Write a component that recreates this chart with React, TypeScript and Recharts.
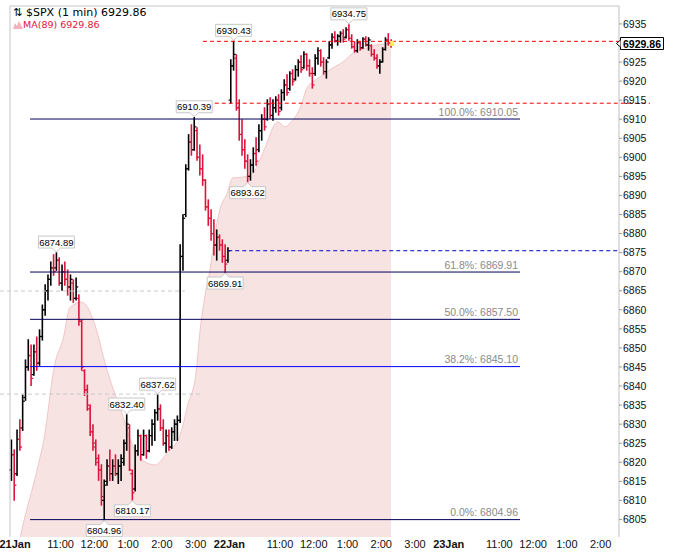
import React from 'react';
import { ComposedChart, XAxis, YAxis, Bar, Area, Scatter, ReferenceLine, ReferenceDot } from 'recharts';

// ---------- axes ----------
const X_MIN = -17.8;
const X_MAX = 1082.7;
const Y_MIN = 6800.4;
const Y_MAX = 6939.7;

// minutes counted from 21 Jan 9:30 (sessions joined without overnight gap)
const xTickValues = [0, 90, 150, 210, 270, 330, 390, 480, 540, 600, 660, 720, 780, 870, 930, 990, 1050];
const xTickLabels = ['21Jan', '11:00', '12:00', '1:00', '2:00', '3:00', '22Jan', '11:00', '12:00', '1:00', '2:00', '3:00', '23Jan', '11:00', '12:00', '1:00', '2:00'];
const dayTicks = [0, 390, 780];
const yTickValues = [6805, 6810, 6815, 6820, 6825, 6830, 6835, 6840, 6845, 6850, 6855, 6860, 6865, 6870, 6875, 6880, 6885, 6890, 6895, 6900, 6905, 6910, 6915, 6920, 6925, 6935];

// ---------- price bars (5-minute OHLC) ----------
const JAN21_START = 2.5;
const JAN22_START = 392.5;
const BAR_MINUTES = 5;

const jan21Bars: number[][] = [
  [6818, 6825.8, 6815.3, 6822], [6822, 6823.2, 6810.1, 6814], [6817, 6828.4, 6816.6, 6826], [6826, 6831.1, 6823.2, 6824],
  [6829, 6837.6, 6828.4, 6836], [6837, 6846.8, 6836.3, 6845], [6845, 6852.1, 6844.2, 6848], [6848, 6850.7, 6840.2, 6842],
  [6843, 6850.7, 6842.9, 6849], [6849, 6852.8, 6844.2, 6846], [6846, 6854.7, 6845.5, 6853], [6853, 6861.2, 6852.1, 6860],
  [6860, 6866.5, 6858.6, 6865], [6865, 6869.1, 6862.6, 6868], [6868, 6872.5, 6866.5, 6871], [6871, 6874.4, 6869.1, 6870],
  [6871, 6874.89, 6870.4, 6873], [6873, 6873.6, 6866.5, 6867], [6867, 6871.7, 6865.2, 6870], [6870, 6872.5, 6866.5, 6868],
  [6868, 6870.4, 6863.9, 6866], [6866, 6869.1, 6862.6, 6868], [6867, 6867.8, 6862.0, 6863], [6863, 6868.3, 6862.6, 6866],
  [6863, 6863.9, 6856.0, 6857], [6857, 6857.3, 6844.2, 6845], [6844, 6844.2, 6837.6, 6839], [6839, 6840.2, 6833.7, 6835],
  [6834, 6835.0, 6827.1, 6828], [6828, 6829.8, 6823.2, 6825], [6824, 6825.8, 6819.3, 6821], [6820, 6821.9, 6815.3, 6818],
  [6818, 6819.3, 6808.8, 6811], [6810, 6815.3, 6804.96, 6814], [6815, 6820.6, 6814.0, 6819], [6819, 6823.2, 6815.3, 6817],
  [6817, 6820.6, 6815.3, 6819], [6819, 6821.9, 6816.6, 6817], [6817, 6820.6, 6814.5, 6819], [6819, 6821.9, 6815.3, 6821],
  [6820, 6825.8, 6819.3, 6825], [6825, 6832.4, 6823.2, 6830], [6829, 6829.8, 6817.9, 6818], [6817, 6817.9, 6810.17, 6812],
  [6813, 6824.5, 6812.5, 6823], [6823, 6828.4, 6821.9, 6827], [6827, 6827.1, 6820.6, 6822], [6822, 6828.4, 6821.9, 6827],
  [6827, 6827.1, 6821.1, 6823], [6823, 6828.4, 6822.8, 6827], [6827, 6831.1, 6824.5, 6830], [6830, 6833.7, 6825.8, 6833],
  [6833, 6837.62, 6831.1, 6834], [6834, 6835.0, 6828.4, 6829], [6829, 6831.1, 6824.5, 6825], [6825, 6828.4, 6822.7, 6827],
  [6827, 6828.4, 6823.2, 6824], [6824, 6829.0, 6823.7, 6828], [6828, 6831.1, 6825.8, 6830], [6830, 6832.1, 6825.8, 6831],
  [6831, 6877.0, 6830.5, 6874], [6874, 6884.9, 6870.4, 6884], [6885, 6898.0, 6884.5, 6897], [6897, 6905.9, 6896.7, 6904],
  [6904, 6908.5, 6900.6, 6902], [6902, 6910.39, 6901.9, 6908], [6907, 6907.7, 6899.3, 6900], [6900, 6903.2, 6895.4, 6897],
  [6897, 6900.6, 6892.7, 6894], [6894, 6894.1, 6886.2, 6887], [6887, 6888.8, 6882.2, 6884], [6884, 6886.2, 6878.3, 6880],
  [6880, 6883.6, 6874.4, 6877], [6877, 6880.9, 6873.1, 6879], [6879, 6879.6, 6875.7, 6877], [6877, 6878.3, 6872.5, 6874],
  [6874, 6877.0, 6869.91, 6872], [6873, 6876.2, 6872.5, 6875.5],
];

const jan22Bars: number[][] = [
  [6915, 6925.55, 6914.27, 6924], [6924, 6930.43, 6922.93, 6927], [6926, 6926.86, 6912.43, 6913], [6913, 6915.05, 6904.55, 6906],
  [6906, 6909.8, 6900.62, 6902], [6902, 6904.55, 6897.21, 6899], [6899, 6900.62, 6893.62, 6895], [6895, 6899.31, 6894.06, 6898],
  [6898, 6902.45, 6896.16, 6901], [6901, 6905.08, 6897.99, 6899], [6902, 6908.49, 6901.5, 6907], [6907, 6911.12, 6904.55, 6910],
  [6910, 6912.95, 6907.18, 6908], [6910, 6915.05, 6909.8, 6914], [6914, 6915.58, 6910.33, 6911], [6911, 6915.05, 6909.8, 6913],
  [6913, 6915.84, 6911.9, 6915], [6915, 6916.37, 6911.12, 6912], [6913, 6917.68, 6912.43, 6917], [6917, 6920.3, 6915.05, 6919],
  [6919, 6921.61, 6916.37, 6917], [6918, 6922.4, 6917.68, 6922], [6922, 6922.93, 6918.99, 6920], [6920.5, 6923.98, 6920.3, 6923],
  [6923, 6925.55, 6921.35, 6925], [6925, 6926.6, 6922.4, 6923], [6923.5, 6927.65, 6923.45, 6927], [6927, 6927.13, 6922.93, 6924],
  [6924, 6925.55, 6921.35, 6922], [6922, 6923.45, 6918.2, 6919], [6922, 6926.86, 6921.61, 6926], [6926, 6928.7, 6924.5, 6928],
  [6928, 6928.18, 6923.98, 6925], [6925, 6926.08, 6921.88, 6922.5], [6922.5, 6925.55, 6920.83, 6925], [6926.1, 6930.28, 6926.0, 6929.5],
  [6929.5, 6932.38, 6928.7, 6931.5], [6931.5, 6932.9, 6930.28, 6930.5], [6930.5, 6932.11, 6929.49, 6931.8], [6931.8, 6932.9, 6930.28, 6932.5],
  [6932.5, 6933.43, 6930.28, 6931], [6931.5, 6933.95, 6931.33, 6933.5], [6933.5, 6934.75, 6930.8, 6931.2], [6931.2, 6932.11, 6928.7, 6929],
  [6929, 6930.28, 6927.65, 6928], [6928, 6930.8, 6927.65, 6930.2], [6930, 6930.28, 6928.18, 6928.5], [6928.8, 6931.33, 6928.7, 6931],
  [6931, 6931.59, 6929.23, 6929.5], [6929.5, 6931.33, 6928.18, 6930.8], [6929.3, 6929.49, 6926.6, 6927], [6927, 6928.18, 6925.55, 6926],
  [6926, 6926.86, 6923.45, 6924], [6924, 6925.55, 6922.14, 6925], [6925.1, 6928.7, 6925.03, 6928.3], [6928.3, 6931.33, 6928.18, 6930.8],
  [6930.8, 6932.38, 6929.49, 6930], [6930, 6930.8, 6928.96, 6929.86],
];

// ---------- MA(89) read from the shaded area ----------
const maPoints: number[][] = [
  [17.8, 6800.0], [21, 6802.2], [48, 6817.9], [60, 6825.8], [80, 6846.0], [94, 6852.1], [107, 6860.7], [128, 6862.0],
  [148, 6857.3], [171, 6845.0], [178, 6841.6], [199, 6832.9], [219, 6824.0], [244, 6819.8], [258, 6819.3], [279, 6822.4],
  [302, 6827.0], [316, 6835.0], [331, 6843.7], [338, 6854.7], [347, 6863.9], [356, 6871.0], [364, 6879.4], [373, 6886.2],
  [386, 6890.6], [396, 6894.6], [414, 6894.8], [432, 6895.9], [444, 6899.3], [457, 6903.8], [468, 6908.0], [476, 6909.3],
  [489, 6908.0], [498, 6909.0], [516, 6913.0], [528, 6918.2], [539, 6919.8], [556, 6921.6], [574, 6923.5], [592, 6925.0],
  [610, 6927.4], [635, 6928.7], [652, 6929.5], [677.5, 6929.86],
];

// ---------- annotations ----------
const FIB_START = 35.6;
const FIB_END = 906.7;
const fibPercents = ['100.0%', '61.8%', '50.0%', '38.2%', '0.0%'];
const fibValues = [6910.05, 6869.91, 6857.5, 6845.1, 6804.96];
const fibColors = ['#00005a', '#00005a', '#00005a', '#0000ff', '#00005a'];

const extremeTimes = [82.5, 167.5, 207.5, 217.5, 262.5, 327.5, 382.5, 397.5, 422.5, 602.5];
const extremeValues = [6874.89, 6804.96, 6832.4, 6810.17, 6837.62, 6910.39, 6869.91, 6930.43, 6893.62, 6934.75];
const extremeSides = ['above', 'below', 'above', 'below', 'above', 'above', 'below', 'above', 'below', 'above'];

const LAST_TIME = 677.5;
const LAST_PRICE = 6929.86;
const MA_LAST = 6929.86;
const PREV_CLOSE = 6875.5;

// ---------- tables for the library ----------
const barRows = [
  ...jan21Bars.map((b, i) => ({ t: JAN21_START + i * BAR_MINUTES, o: b[0], h: b[1], l: b[2], c: b[3] })),
  ...jan22Bars.map((b, i) => ({ t: JAN22_START + i * BAR_MINUTES, o: b[0], h: b[1], l: b[2], c: b[3] })),
];
const maRows = maPoints.map(([t, v]) => ({ t, ma: v }));
const rows: any[] = [...barRows, ...maRows].sort((a, b) => a.t - b.t);

const extremeData = extremeTimes.map((t, i) => ({ t, v: extremeValues[i], side: extremeSides[i], text: extremeValues[i].toFixed(2) }));
const fibLabelData = fibValues.map((v, i) => ({ t: FIB_END, v, text: `${fibPercents[i]}: ${v.toFixed(2)}` }));
const lastMarkData = [{ t: LAST_TIME, v: LAST_PRICE }];

const SANS = '"Liberation Sans", Arial, sans-serif';

const OhlcShape = (props: any) => {
  const { x, y, width, height, payload } = props;
  if (!payload || payload.h == null) return null;
  const top = Math.min(y, y + height);
  const span = Math.abs(height);
  const cx = x + width / 2;
  const rng = payload.h - payload.l || 1;
  const toPx = (v: number) => top + ((payload.h - v) / rng) * span;
  const color = payload.c >= payload.o ? '#000000' : '#dc143c';
  const oy = toPx(payload.o);
  const cy = toPx(payload.c);
  return (
    <g stroke={color}>
      <line x1={cx} x2={cx} y1={top - 0.7} y2={top + span + 0.7} strokeWidth={1.6} />
      <line x1={cx - 2.2} x2={cx} y1={oy} y2={oy} strokeWidth={1.2} />
      <line x1={cx} x2={cx + 2.2} y1={cy} y2={cy} strokeWidth={1.2} />
    </g>
  );
};

const ExtremeLabel = (props: any) => {
  const { cx, cy, payload } = props;
  if (cx == null || cy == null) return null;
  const w = 36;
  const h = 12;
  const left = cx - w / 2;
  const right = cx + w / 2;
  let d: string;
  let textY: number;
  if (payload.side === 'above') {
    const bottom = cy - 5;
    const top = bottom - h;
    d = `M${left},${top} H${right} V${bottom} H${cx + 4} L${cx},${cy - 1} L${cx - 4},${bottom} H${left} Z`;
    textY = bottom - 2.5;
  } else {
    const top = cy + 5;
    const bottom = top + h;
    d = `M${left},${top} H${cx - 4} L${cx},${cy + 1} L${cx + 4},${top} H${right} V${bottom} H${left} Z`;
    textY = bottom - 2.5;
  }
  return (
    <g>
      <path d={d} fill="#ffffff" stroke="#c8c8c8" strokeWidth={1} />
      <text x={cx} y={textY} textAnchor="middle" fontSize={9.5} fontFamily={SANS} fill="#000">{payload.text}</text>
    </g>
  );
};

const FibLabel = (props: any) => {
  const { cx, cy, payload } = props;
  if (cx == null || cy == null) return null;
  return (
    <text x={cx - 2} y={cy - 3.5} textAnchor="end" fontSize={10.5} fontFamily={SANS} fill="#8a8a8a">{payload.text}</text>
  );
};

const LastPriceLabel = (props: any) => {
  const { cx, cy } = props;
  if (cx == null || cy == null) return null;
  const l = cx + 1.5;
  return (
    <g>
      <path d={`M${l},${cy - 6} H${l + 43} V${cy + 6} H${l} Z`} fill="#fff" stroke="#000" strokeWidth={1} />
      <path d={`M${l},${cy - 3.5} L${cx - 2.5},${cy} L${l},${cy + 3.5}`} fill="#fff" stroke="#000" strokeWidth={1} />
      <text x={l + 21.5} y={cy + 4} textAnchor="middle" fontSize={10.5} fontWeight="bold" fontFamily={SANS} fill="#000">{LAST_PRICE.toFixed(2)}</text>
    </g>
  );
};

const LastMark = (props: any) => {
  const { cx, cy } = props;
  if (cx == null || cy == null) return null;
  return <rect x={cx - 1} y={cy - 2.5} width={4} height={5} fill="#f4ee6c" />;
};

const XTick = (props: any) => {
  const { x, y, payload } = props;
  const idx = xTickValues.indexOf(payload.value);
  const label = idx >= 0 ? xTickLabels[idx] : '';
  const isDay = dayTicks.includes(payload.value);
  const dx = idx === 0 ? 5 : 0;
  return (
    <text x={x + dx} y={y + 11} textAnchor="middle" fontSize={11} fontFamily={SANS} fontWeight={isDay ? 'bold' : 'normal'} fill="#111">{label}</text>
  );
};

export default function App() {
  return (
    <div style={{ position: 'absolute', left: 0, top: 0, width: 676, height: 552, background: '#fff', overflow: 'hidden' }}>
      <ComposedChart width={676} height={552} data={rows} margin={{ top: 6, right: 0, left: 0, bottom: 0 }}>
        <XAxis
          dataKey="t"
          type="number"
          domain={[X_MIN, X_MAX]}
          allowDataOverflow
          ticks={xTickValues}
          interval={0}
          tick={<XTick />}
          tickLine={false}
          axisLine={false}
          tickSize={0}
          tickMargin={0}
          height={15}
        />
        <YAxis
          orientation="right"
          type="number"
          domain={[Y_MIN, Y_MAX]}
          allowDataOverflow
          ticks={yTickValues}
          interval={0}
          width={57}
          tick={{ fontSize: 10.5, fill: '#111', fontFamily: SANS }}
          tickLine={{ stroke: '#999' }}
          tickSize={3}
          tickMargin={1}
          axisLine={{ stroke: '#c0c0c0' }}
        />
        <Area
          type="monotone"
          dataKey="ma"
          stroke="#f2c6c6"
          strokeWidth={1}
          fill="#f8e3e3"
          fillOpacity={1}
          baseValue={Y_MIN}
          connectNulls
          dot={false}
          activeDot={false}
          isAnimationActive={false}
        />
        <ReferenceLine segment={[{ x: 0, y: Y_MIN }, { x: 0, y: Y_MAX }]} stroke="#c4c4c4" ifOverflow="visible" />
        <ReferenceLine segment={[{ x: 0, y: Y_MAX }, { x: X_MAX, y: Y_MAX }]} stroke="#c4c4c4" ifOverflow="visible" />
        <ReferenceLine segment={[{ x: X_MIN, y: 6864.92 }, { x: 311, y: 6864.92 }]} stroke="#c8c8c8" strokeDasharray="4 3" ifOverflow="visible" />
        <ReferenceLine segment={[{ x: X_MIN, y: 6837.89 }, { x: 338, y: 6837.89 }]} stroke="#c8c8c8" strokeDasharray="4 3" ifOverflow="visible" />
        {fibValues.map((v, i) => (
          <ReferenceLine key={`fib${i}`} segment={[{ x: FIB_START, y: v }, { x: FIB_END, y: v }]} stroke={fibColors[i]} strokeWidth={1} ifOverflow="visible" />
        ))}
        <ReferenceLine segment={[{ x: 343, y: 6930.43 }, { x: X_MAX, y: 6930.43 }]} stroke="#ff0000" strokeDasharray="4 3" ifOverflow="visible" />
        <ReferenceLine segment={[{ x: 364, y: 6914.2 }, { x: 1138, y: 6914.2 }]} stroke="#ff0000" strokeDasharray="4 3" ifOverflow="visible" />
        <ReferenceLine segment={[{ x: 388, y: PREV_CLOSE }, { x: X_MAX, y: PREV_CLOSE }]} stroke="#0000d0" strokeDasharray="4 3" ifOverflow="visible" />
        <Bar
          dataKey={(d: any) => (d.h != null ? [d.l, d.h] : undefined)}
          barSize={3}
          shape={<OhlcShape />}
          isAnimationActive={false}
        />
        <Scatter data={fibLabelData} dataKey="v" shape={<FibLabel />} isAnimationActive={false} />
        <Scatter data={extremeData} dataKey="v" shape={<ExtremeLabel />} isAnimationActive={false} />
        <Scatter data={lastMarkData} dataKey="v" shape={<LastMark />} isAnimationActive={false} />
        <ReferenceDot x={X_MAX} y={LAST_PRICE} ifOverflow="visible" shape={<LastPriceLabel />} />
      </ComposedChart>
      <div style={{ position: 'absolute', left: 13, top: 6, fontFamily: '"DejaVu Sans", sans-serif', fontSize: 11, lineHeight: '13px', color: '#000', whiteSpace: 'nowrap' }}>
        <span style={{ display: 'inline-block', width: 13 }}>⇅</span>$SPX (1 min) 6929.86
      </div>
      <div style={{ position: 'absolute', left: 13, top: 19, fontFamily: '"DejaVu Sans", sans-serif', fontSize: 9.5, lineHeight: '11px', color: '#dc143c', whiteSpace: 'nowrap' }}>
        <svg width={10} height={9} style={{ verticalAlign: '-1px' }}>
          <polygon points="0,9 2,3 4,6 6,1 8,5 10,9" fill="#f4b0bd" />
        </svg>
        MA(89) {MA_LAST.toFixed(2)}
      </div>
    </div>
  );
}
